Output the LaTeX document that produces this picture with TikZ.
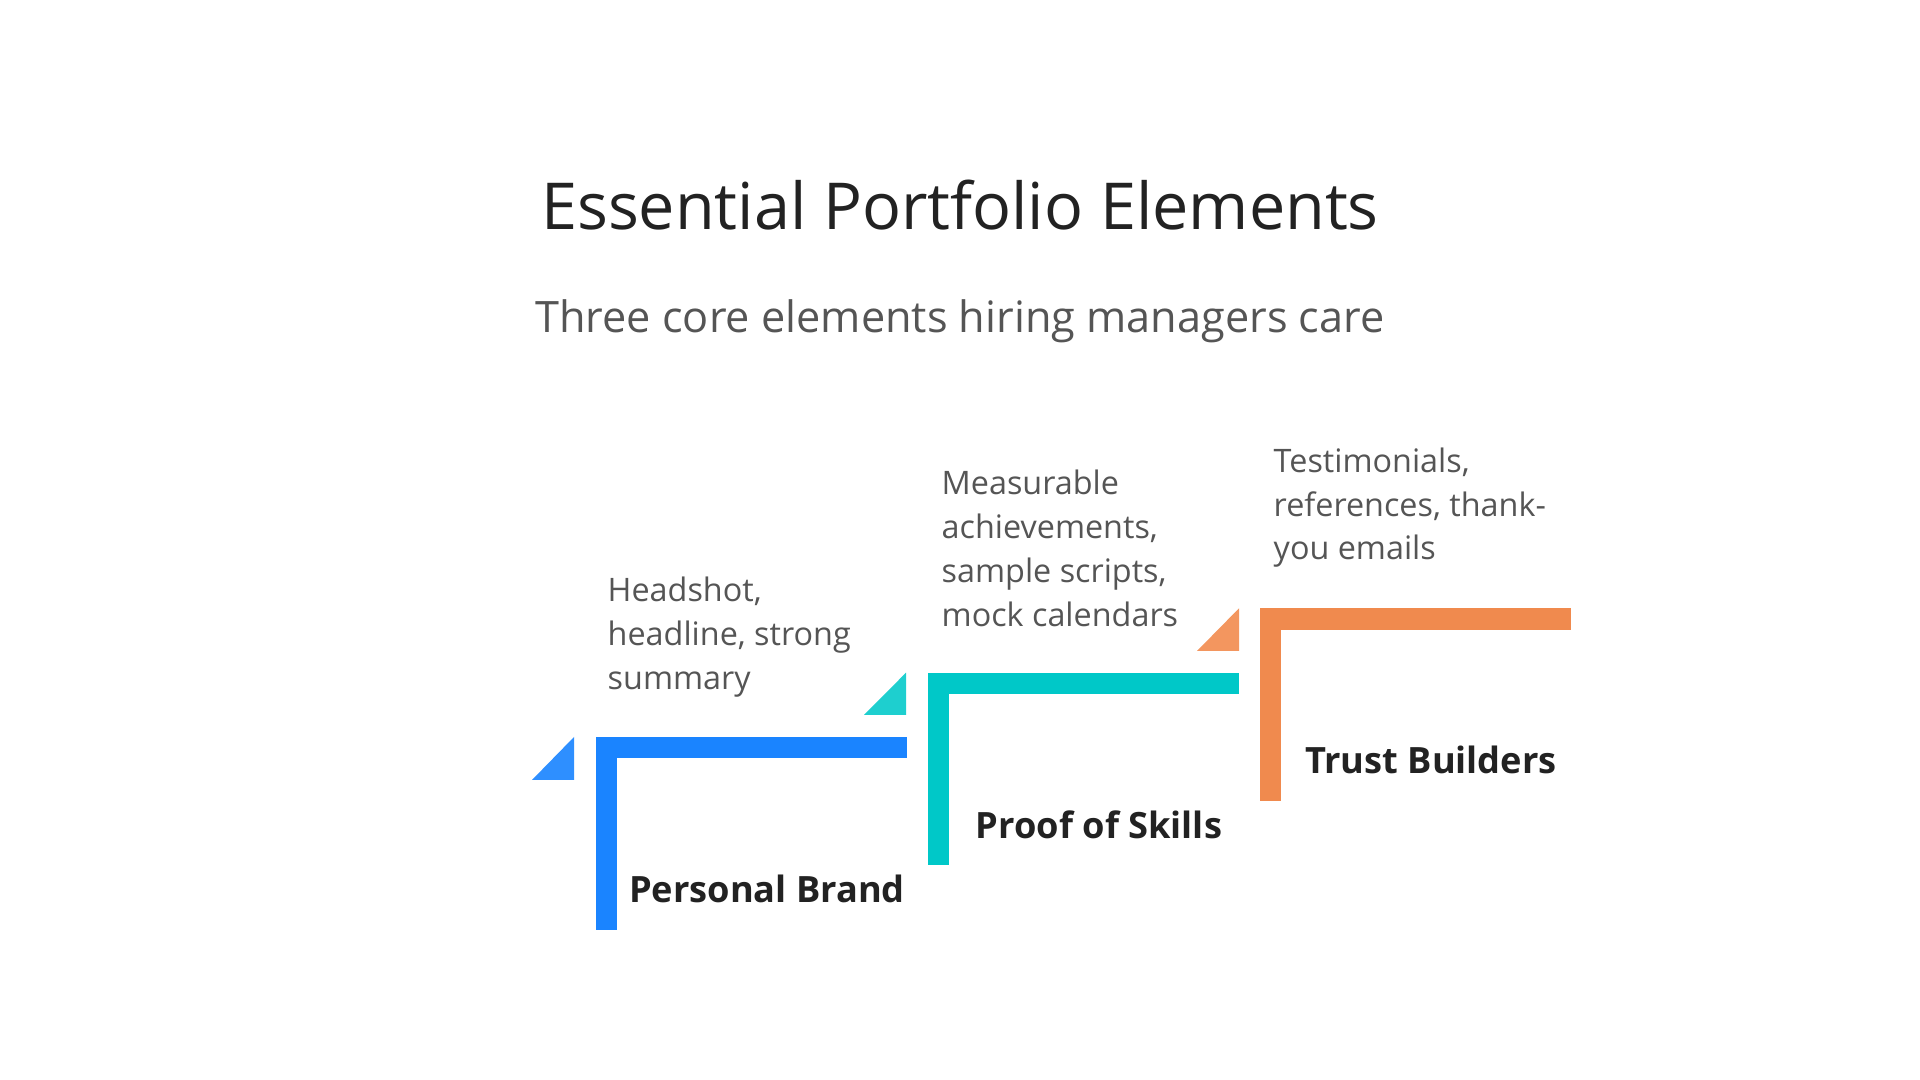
\documentclass[tikz,border=0pt]{standalone}
\usepackage{fontspec}
\setmainfont{Open Sans}
\definecolor{brandblue}{HTML}{1A84FF}
\definecolor{brandbluelt}{HTML}{2E8FFF}
\definecolor{skillteal}{HTML}{00C8C8}
\definecolor{skillteallt}{HTML}{1ECFCF}
\definecolor{trustorange}{HTML}{F08A4E}
\definecolor{trustorangelt}{HTML}{F3965F}
\definecolor{titlegray}{HTML}{222222}
\definecolor{textgray}{HTML}{555555}
\tikzset{
  titletext/.style={text=titlegray, font=\fontsize{18.4pt}{22pt}\selectfont, inner sep=0pt},
  subtext/.style={text=textgray, font=\fontsize{12.3pt}{15pt}\selectfont, inner sep=0pt},
  desctext/.style={text=textgray, font=\fontsize{9.2pt}{12.5pt}\selectfont, align=left, inner sep=0pt, anchor=base west},
  steplabel/.style={text=titlegray, font=\fontsize{10.3pt}{13pt}\selectfont\bfseries, inner sep=0pt, anchor=base}
}
\begin{document}
\begin{tikzpicture}[x=0.01cm, y=-0.01cm]
        \useasboundingbox (0,0) rectangle (1920,1080);

        \node[titletext, anchor=base] (title) at (960,230) {Essential Portfolio Elements};
        \node[subtext, anchor=base] (subtitle) at (960,333) {Three core elements hiring managers care};

        % Step 1: personal brand
        \fill[brandblue] (596,737) rectangle (907,758.3);
        \fill[brandblue] (596,737) rectangle (617.3,930);
        \fill[brandbluelt] (574,737) -- (574,780) -- (532,780) -- cycle;
        \node[desctext] (brandtext) at (607,689.3) {Headshot,\\headline, strong\\summary};
        \node[steplabel] (brandlabel) at (767,903) {Personal Brand};

        % Step 2: proof of skills
        \fill[skillteal] (928,672.7) rectangle (1239,694);
        \fill[skillteal] (928,672.7) rectangle (949.3,865);
        \fill[skillteallt] (906,672.7) -- (906,715) -- (864,715) -- cycle;
        \node[desctext] (skilltext) at (941,626.7) {Measurable\\achievements,\\sample scripts,\\mock calendars};
        \node[steplabel] (skilllabel) at (1099,839) {Proof of Skills};

        % Step 3: trust builders
        \fill[trustorange] (1260,608.3) rectangle (1571,629.6);
        \fill[trustorange] (1260,608.3) rectangle (1281.3,801);
        \fill[trustorangelt] (1239,608.3) -- (1239,651) -- (1197,651) -- cycle;
        \node[desctext] (trusttext) at (1273,560) {Testimonials,\\references, thank-\\you emails};
        \node[steplabel] (trustlabel) at (1431,774) {Trust Builders};
      \end{tikzpicture}
\end{document}
